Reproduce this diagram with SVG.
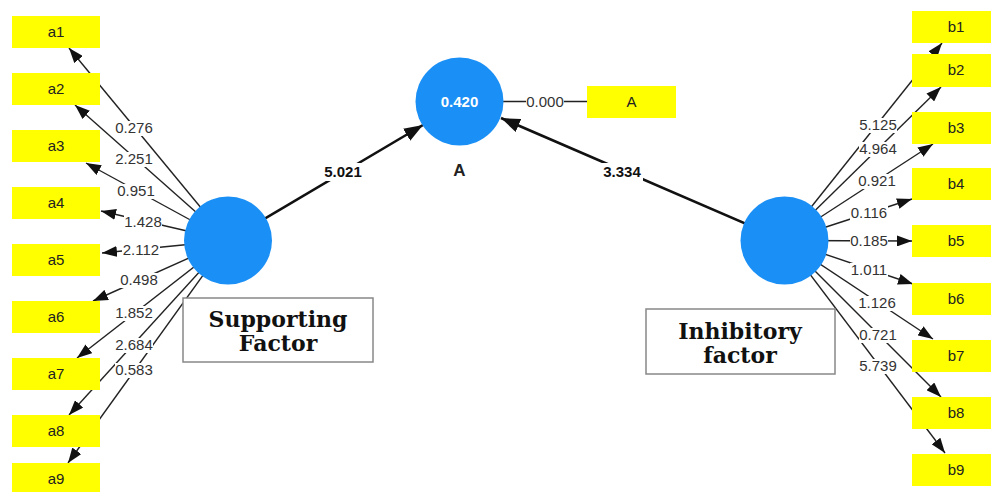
<svg xmlns="http://www.w3.org/2000/svg" width="991" height="492" viewBox="0 0 991 492">
<defs>
<marker id="ah" markerUnits="userSpaceOnUse" markerWidth="15" markerHeight="11" refX="15" refY="5.5" orient="auto"><path d="M0,0 L15,5.5 L0,11 z" fill="#111"/></marker>
<marker id="ahb" markerUnits="userSpaceOnUse" markerWidth="19" markerHeight="14" refX="19" refY="7" orient="auto"><path d="M0,0 L19,7 L0,14 z" fill="#111"/></marker>
<style>
.ind{stroke:#222;stroke-width:1.4;fill:none;marker-end:url(#ah)}
.path{stroke:#111;stroke-width:2.6;fill:none;marker-end:url(#ahb)}
.lbl{font-family:"Liberation Sans",Arial,sans-serif;font-size:15px;fill:#333;text-anchor:middle}
.plbl{font-family:"Liberation Sans",Arial,sans-serif;font-size:15px;font-weight:bold;fill:#111;text-anchor:middle}
.bg{fill:#fff}
.box{fill:#ffff00}
.bt{font-family:"Liberation Sans",Arial,sans-serif;font-size:15px;fill:#222;text-anchor:middle}
.lv{fill:#1a8ff5}
.tbox{fill:#fff;stroke:#888;stroke-width:1.5}
.tt{font-family:"DejaVu Serif",serif;font-size:22px;font-weight:bold;fill:#111;text-anchor:middle}
</style>
</defs>
<rect width="991" height="492" fill="#fff"/>
<g id="connectors">
<line class="ind" x1="228" y1="240.5" x2="69" y2="48"/>
<line class="ind" x1="228" y1="240.5" x2="75" y2="105"/>
<line class="ind" x1="228" y1="240.5" x2="86" y2="163"/>
<line class="ind" x1="228" y1="240.5" x2="101" y2="211"/>
<line class="ind" x1="228" y1="240.5" x2="102" y2="253"/>
<line class="ind" x1="228" y1="240.5" x2="93" y2="301"/>
<line class="ind" x1="228" y1="240.5" x2="77" y2="358"/>
<line class="ind" x1="228" y1="240.5" x2="69" y2="415"/>
<line class="ind" x1="228" y1="240.5" x2="68" y2="463"/>
<line class="ind" x1="784.5" y1="240.5" x2="942" y2="43"/>
<line class="ind" x1="784.5" y1="240.5" x2="941" y2="87"/>
<line class="ind" x1="784.5" y1="240.5" x2="933" y2="144"/>
<line class="ind" x1="784.5" y1="240.5" x2="912" y2="199"/>
<line class="ind" x1="784.5" y1="240.5" x2="912" y2="241"/>
<line class="ind" x1="784.5" y1="240.5" x2="913" y2="284"/>
<line class="ind" x1="784.5" y1="240.5" x2="933" y2="339"/>
<line class="ind" x1="784.5" y1="240.5" x2="941" y2="397"/>
<line class="ind" x1="784.5" y1="240.5" x2="945" y2="453"/>
<line x1="459.5" y1="101.5" x2="587" y2="101.5" stroke="#222" stroke-width="1.4"/>
<line class="path" x1="228" y1="240.5" x2="423" y2="125"/>
<line class="path" x1="784.5" y1="240.5" x2="501" y2="118"/>
<g id="labels">
<rect class="bg" x="115" y="121" width="38" height="15"/><text class="lbl" x="134" y="133">0.276</text>
<rect class="bg" x="115" y="152" width="38" height="15"/><text class="lbl" x="134" y="164">2.251</text>
<rect class="bg" x="117" y="184" width="38" height="15"/><text class="lbl" x="136" y="196">0.951</text>
<rect class="bg" x="124" y="215" width="38" height="15"/><text class="lbl" x="143" y="227">1.428</text>
<rect class="bg" x="122" y="243" width="38" height="15"/><text class="lbl" x="141" y="255">2.112</text>
<rect class="bg" x="120" y="273" width="38" height="15"/><text class="lbl" x="139" y="285">0.498</text>
<rect class="bg" x="115" y="306" width="38" height="15"/><text class="lbl" x="134" y="318">1.852</text>
<rect class="bg" x="115" y="338" width="38" height="15"/><text class="lbl" x="134" y="350">2.684</text>
<rect class="bg" x="115" y="363" width="38" height="15"/><text class="lbl" x="134" y="375">0.583</text>
<rect class="bg" x="859" y="118" width="38" height="15"/><text class="lbl" x="878" y="130">5.125</text>
<rect class="bg" x="859" y="142" width="38" height="15"/><text class="lbl" x="878" y="154">4.964</text>
<rect class="bg" x="858" y="174" width="38" height="15"/><text class="lbl" x="877" y="186">0.921</text>
<rect class="bg" x="850" y="206" width="38" height="15"/><text class="lbl" x="869" y="218">0.116</text>
<rect class="bg" x="850" y="234" width="38" height="15"/><text class="lbl" x="869" y="246">0.185</text>
<rect class="bg" x="850" y="263" width="38" height="15"/><text class="lbl" x="869" y="275">1.011</text>
<rect class="bg" x="858" y="296" width="38" height="15"/><text class="lbl" x="877" y="308">1.126</text>
<rect class="bg" x="859" y="328" width="38" height="15"/><text class="lbl" x="878" y="340">0.721</text>
<rect class="bg" x="859" y="359" width="38" height="15"/><text class="lbl" x="878" y="371">5.739</text>
<rect class="bg" x="526" y="94" width="38" height="15"/><text class="lbl" x="545" y="107">0.000</text>
<rect class="bg" x="322" y="163" width="42" height="18"/><text class="plbl" x="343" y="177">5.021</text>
<rect class="bg" x="601" y="163" width="42" height="18"/><text class="plbl" x="622" y="177">3.334</text>
</g>
</g>
<g id="SupportingFactor">
<circle class="lv" cx="228" cy="240.5" r="44"/>
<rect class="tbox" x="183" y="298" width="190" height="64"/>
<text class="tt" x="278" y="327">Supporting</text>
<text class="tt" x="278" y="351">Factor</text>
</g>
<g id="InhibitoryFactor">
<circle class="lv" cx="784.5" cy="240.5" r="44"/>
<rect class="tbox" x="646" y="309" width="189" height="65"/>
<text class="tt" x="740" y="339">Inhibitory</text>
<text class="tt" x="740" y="363">factor</text>
</g>
<g id="A">
<circle class="lv" cx="459.5" cy="101.5" r="44"/>
<text x="459.5" y="107" text-anchor="middle" font-family="Liberation Sans, Arial, sans-serif" font-size="15" font-weight="bold" fill="#fff">0.420</text>
<text x="459.5" y="176" text-anchor="middle" font-family="Liberation Sans, Arial, sans-serif" font-size="17" font-weight="bold" fill="#222">A</text>
</g>
<g id="ind_A"><rect class="box" x="587" y="86" width="89" height="32"/><text class="bt" x="631.5" y="107">A</text></g>
<g id="a1"><rect class="box" x="12" y="16" width="88" height="32"/><text class="bt" x="56" y="37">a1</text></g>
<g id="a2"><rect class="box" x="12" y="73" width="88" height="32"/><text class="bt" x="56" y="94">a2</text></g>
<g id="a3"><rect class="box" x="12" y="130" width="88" height="32"/><text class="bt" x="56" y="151">a3</text></g>
<g id="a4"><rect class="box" x="12" y="187" width="88" height="32"/><text class="bt" x="56" y="208">a4</text></g>
<g id="a5"><rect class="box" x="12" y="244" width="88" height="32"/><text class="bt" x="56" y="265">a5</text></g>
<g id="a6"><rect class="box" x="12" y="301" width="88" height="32"/><text class="bt" x="56" y="322">a6</text></g>
<g id="a7"><rect class="box" x="12" y="358" width="88" height="32"/><text class="bt" x="56" y="379">a7</text></g>
<g id="a8"><rect class="box" x="12" y="415" width="88" height="32"/><text class="bt" x="56" y="436">a8</text></g>
<g id="a9"><rect class="box" x="12" y="463" width="88" height="32"/><text class="bt" x="56" y="484">a9</text></g>
<g id="b1"><rect class="box" x="912" y="11" width="88" height="32"/><text class="bt" x="956" y="32">b1</text></g>
<g id="b2"><rect class="box" x="912" y="54" width="88" height="33"/><text class="bt" x="956" y="75">b2</text></g>
<g id="b3"><rect class="box" x="912" y="112" width="88" height="32"/><text class="bt" x="956" y="133">b3</text></g>
<g id="b4"><rect class="box" x="912" y="168" width="88" height="32"/><text class="bt" x="956" y="189">b4</text></g>
<g id="b5"><rect class="box" x="912" y="225" width="88" height="32"/><text class="bt" x="956" y="246">b5</text></g>
<g id="b6"><rect class="box" x="912" y="283" width="88" height="32"/><text class="bt" x="956" y="304">b6</text></g>
<g id="b7"><rect class="box" x="912" y="340" width="88" height="32"/><text class="bt" x="956" y="361">b7</text></g>
<g id="b8"><rect class="box" x="912" y="397" width="88" height="32"/><text class="bt" x="956" y="418">b8</text></g>
<g id="b9"><rect class="box" x="912" y="454" width="88" height="32"/><text class="bt" x="956" y="475">b9</text></g>
</svg>
